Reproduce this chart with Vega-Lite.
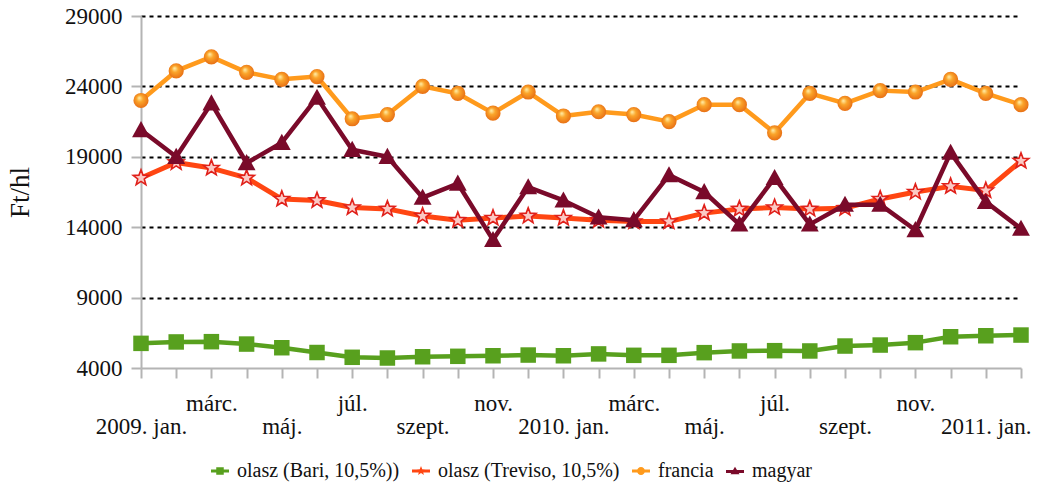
{
  "$schema": "https://vega.github.io/schema/vega-lite/v6.json",
  "autosize": {"type": "none"},
  "width": 880,
  "height": 352,
  "padding": {"left": 141, "top": 16, "right": 18, "bottom": 115},
  "background": "white",
  "config": {
    "view": {"stroke": null},
    "font": "Liberation Serif"
  },
  "data": {
    "values": [
      {"honap": "2009-01", "sorozat": "olasz (Bari, 10,5%))", "ar": 5750},
      {"honap": "2009-02", "sorozat": "olasz (Bari, 10,5%))", "ar": 5850},
      {"honap": "2009-03", "sorozat": "olasz (Bari, 10,5%))", "ar": 5870},
      {"honap": "2009-04", "sorozat": "olasz (Bari, 10,5%))", "ar": 5700},
      {"honap": "2009-05", "sorozat": "olasz (Bari, 10,5%))", "ar": 5440},
      {"honap": "2009-06", "sorozat": "olasz (Bari, 10,5%))", "ar": 5100},
      {"honap": "2009-07", "sorozat": "olasz (Bari, 10,5%))", "ar": 4760},
      {"honap": "2009-08", "sorozat": "olasz (Bari, 10,5%))", "ar": 4710},
      {"honap": "2009-09", "sorozat": "olasz (Bari, 10,5%))", "ar": 4800},
      {"honap": "2009-10", "sorozat": "olasz (Bari, 10,5%))", "ar": 4830},
      {"honap": "2009-11", "sorozat": "olasz (Bari, 10,5%))", "ar": 4870},
      {"honap": "2009-12", "sorozat": "olasz (Bari, 10,5%))", "ar": 4920},
      {"honap": "2010-01", "sorozat": "olasz (Bari, 10,5%))", "ar": 4870},
      {"honap": "2010-02", "sorozat": "olasz (Bari, 10,5%))", "ar": 5000},
      {"honap": "2010-03", "sorozat": "olasz (Bari, 10,5%))", "ar": 4900},
      {"honap": "2010-04", "sorozat": "olasz (Bari, 10,5%))", "ar": 4900},
      {"honap": "2010-05", "sorozat": "olasz (Bari, 10,5%))", "ar": 5090},
      {"honap": "2010-06", "sorozat": "olasz (Bari, 10,5%))", "ar": 5210},
      {"honap": "2010-07", "sorozat": "olasz (Bari, 10,5%))", "ar": 5230},
      {"honap": "2010-08", "sorozat": "olasz (Bari, 10,5%))", "ar": 5210},
      {"honap": "2010-09", "sorozat": "olasz (Bari, 10,5%))", "ar": 5560},
      {"honap": "2010-10", "sorozat": "olasz (Bari, 10,5%))", "ar": 5630},
      {"honap": "2010-11", "sorozat": "olasz (Bari, 10,5%))", "ar": 5800},
      {"honap": "2010-12", "sorozat": "olasz (Bari, 10,5%))", "ar": 6220},
      {"honap": "2011-01", "sorozat": "olasz (Bari, 10,5%))", "ar": 6290},
      {"honap": "2011-02", "sorozat": "olasz (Bari, 10,5%))", "ar": 6340},
      {"honap": "2009-01", "sorozat": "olasz (Treviso, 10,5%)", "ar": 17500},
      {"honap": "2009-02", "sorozat": "olasz (Treviso, 10,5%)", "ar": 18600},
      {"honap": "2009-03", "sorozat": "olasz (Treviso, 10,5%)", "ar": 18200},
      {"honap": "2009-04", "sorozat": "olasz (Treviso, 10,5%)", "ar": 17500},
      {"honap": "2009-05", "sorozat": "olasz (Treviso, 10,5%)", "ar": 16000},
      {"honap": "2009-06", "sorozat": "olasz (Treviso, 10,5%)", "ar": 15900},
      {"honap": "2009-07", "sorozat": "olasz (Treviso, 10,5%)", "ar": 15400},
      {"honap": "2009-08", "sorozat": "olasz (Treviso, 10,5%)", "ar": 15300},
      {"honap": "2009-09", "sorozat": "olasz (Treviso, 10,5%)", "ar": 14800},
      {"honap": "2009-10", "sorozat": "olasz (Treviso, 10,5%)", "ar": 14500},
      {"honap": "2009-11", "sorozat": "olasz (Treviso, 10,5%)", "ar": 14650},
      {"honap": "2009-12", "sorozat": "olasz (Treviso, 10,5%)", "ar": 14800},
      {"honap": "2010-01", "sorozat": "olasz (Treviso, 10,5%)", "ar": 14650},
      {"honap": "2010-02", "sorozat": "olasz (Treviso, 10,5%)", "ar": 14500},
      {"honap": "2010-03", "sorozat": "olasz (Treviso, 10,5%)", "ar": 14400},
      {"honap": "2010-04", "sorozat": "olasz (Treviso, 10,5%)", "ar": 14400},
      {"honap": "2010-05", "sorozat": "olasz (Treviso, 10,5%)", "ar": 15000},
      {"honap": "2010-06", "sorozat": "olasz (Treviso, 10,5%)", "ar": 15300},
      {"honap": "2010-07", "sorozat": "olasz (Treviso, 10,5%)", "ar": 15400},
      {"honap": "2010-08", "sorozat": "olasz (Treviso, 10,5%)", "ar": 15300},
      {"honap": "2010-09", "sorozat": "olasz (Treviso, 10,5%)", "ar": 15350},
      {"honap": "2010-10", "sorozat": "olasz (Treviso, 10,5%)", "ar": 16000},
      {"honap": "2010-11", "sorozat": "olasz (Treviso, 10,5%)", "ar": 16500},
      {"honap": "2010-12", "sorozat": "olasz (Treviso, 10,5%)", "ar": 16900},
      {"honap": "2011-01", "sorozat": "olasz (Treviso, 10,5%)", "ar": 16600},
      {"honap": "2011-02", "sorozat": "olasz (Treviso, 10,5%)", "ar": 18700},
      {"honap": "2009-01", "sorozat": "francia", "ar": 23000},
      {"honap": "2009-02", "sorozat": "francia", "ar": 25100},
      {"honap": "2009-03", "sorozat": "francia", "ar": 26100},
      {"honap": "2009-04", "sorozat": "francia", "ar": 25000},
      {"honap": "2009-05", "sorozat": "francia", "ar": 24500},
      {"honap": "2009-06", "sorozat": "francia", "ar": 24700},
      {"honap": "2009-07", "sorozat": "francia", "ar": 21700},
      {"honap": "2009-08", "sorozat": "francia", "ar": 22000},
      {"honap": "2009-09", "sorozat": "francia", "ar": 24000},
      {"honap": "2009-10", "sorozat": "francia", "ar": 23500},
      {"honap": "2009-11", "sorozat": "francia", "ar": 22100},
      {"honap": "2009-12", "sorozat": "francia", "ar": 23600},
      {"honap": "2010-01", "sorozat": "francia", "ar": 21900},
      {"honap": "2010-02", "sorozat": "francia", "ar": 22200},
      {"honap": "2010-03", "sorozat": "francia", "ar": 22000},
      {"honap": "2010-04", "sorozat": "francia", "ar": 21500},
      {"honap": "2010-05", "sorozat": "francia", "ar": 22700},
      {"honap": "2010-06", "sorozat": "francia", "ar": 22700},
      {"honap": "2010-07", "sorozat": "francia", "ar": 20700},
      {"honap": "2010-08", "sorozat": "francia", "ar": 23500},
      {"honap": "2010-09", "sorozat": "francia", "ar": 22800},
      {"honap": "2010-10", "sorozat": "francia", "ar": 23700},
      {"honap": "2010-11", "sorozat": "francia", "ar": 23600},
      {"honap": "2010-12", "sorozat": "francia", "ar": 24500},
      {"honap": "2011-01", "sorozat": "francia", "ar": 23500},
      {"honap": "2011-02", "sorozat": "francia", "ar": 22700},
      {"honap": "2009-01", "sorozat": "magyar", "ar": 20900},
      {"honap": "2009-02", "sorozat": "magyar", "ar": 19000},
      {"honap": "2009-03", "sorozat": "magyar", "ar": 22800},
      {"honap": "2009-04", "sorozat": "magyar", "ar": 18560},
      {"honap": "2009-05", "sorozat": "magyar", "ar": 20000},
      {"honap": "2009-06", "sorozat": "magyar", "ar": 23200},
      {"honap": "2009-07", "sorozat": "magyar", "ar": 19500},
      {"honap": "2009-08", "sorozat": "magyar", "ar": 19000},
      {"honap": "2009-09", "sorozat": "magyar", "ar": 16100},
      {"honap": "2009-10", "sorozat": "magyar", "ar": 17100},
      {"honap": "2009-11", "sorozat": "magyar", "ar": 13100},
      {"honap": "2009-12", "sorozat": "magyar", "ar": 16850},
      {"honap": "2010-01", "sorozat": "magyar", "ar": 15900},
      {"honap": "2010-02", "sorozat": "magyar", "ar": 14700},
      {"honap": "2010-03", "sorozat": "magyar", "ar": 14500},
      {"honap": "2010-04", "sorozat": "magyar", "ar": 17700},
      {"honap": "2010-05", "sorozat": "magyar", "ar": 16500},
      {"honap": "2010-06", "sorozat": "magyar", "ar": 14200},
      {"honap": "2010-07", "sorozat": "magyar", "ar": 17500},
      {"honap": "2010-08", "sorozat": "magyar", "ar": 14200},
      {"honap": "2010-09", "sorozat": "magyar", "ar": 15600},
      {"honap": "2010-10", "sorozat": "magyar", "ar": 15600},
      {"honap": "2010-11", "sorozat": "magyar", "ar": 13800},
      {"honap": "2010-12", "sorozat": "magyar", "ar": 19300},
      {"honap": "2011-01", "sorozat": "magyar", "ar": 15800},
      {"honap": "2011-02", "sorozat": "magyar", "ar": 13900}
    ]
  },
  "encoding": {
    "x": {
      "field": "honap", "type": "ordinal", "sort": null,
      "scale": {"type": "point", "padding": 0},
      "axis": {
        "title": null,
        "domainColor": "#B4B4B4", "domainWidth": 2,
        "tickColor": "#B4B4B4", "tickWidth": 2, "tickSize": 10,
        "labelFont": "Liberation Serif", "labelColor": "#111111",
        "labelAngle": 0, "labelFontSize": 23, "labelBaseline": "alphabetic",
        "labelLineHeight": 23, "labelPadding": 32,
        "labelOverlap": false, "labelBound": false, "labelFlush": false,
        "labelExpr": "datum.value == '2009-01' ? ['', '2009. jan.'] : datum.value == '2010-01' ? ['', '2010. jan.'] : datum.value == '2011-01' ? ['', '2011. jan.'] : slice(datum.value, 5) == '03' ? ['márc.', ''] : slice(datum.value, 5) == '05' ? ['', 'máj.'] : slice(datum.value, 5) == '07' ? ['júl.', ''] : slice(datum.value, 5) == '09' ? ['', 'szept.'] : slice(datum.value, 5) == '11' ? ['nov.', ''] : ''"
      }
    },
    "y": {
      "field": "ar", "type": "quantitative",
      "scale": {"domain": [4000, 29000], "nice": false, "zero": false},
      "axis": {
        "title": "Ft/hl", "titleFont": "Liberation Serif", "titleColor": "#111111",
        "titleFontSize": 27, "titleFontWeight": "normal", "titlePadding": 30,
        "values": [4000, 9000, 14000, 19000, 24000, 29000],
        "format": "d",
        "domainColor": "#B4B4B4", "domainWidth": 2,
        "tickColor": "#B4B4B4", "tickWidth": 2, "tickSize": 10,
        "labelFont": "Liberation Serif", "labelColor": "#111111",
        "labelFontSize": 23, "labelPadding": 9,
        "grid": true, "gridDash": [4, 4], "gridWidth": 2.2,
        "gridColor": {"condition": {"test": "datum.value == 4000", "value": "transparent"}, "value": "#000000"}
      }
    }
  },
  "layer": [
    {
      "transform": [{"filter": "datum.sorozat == 'olasz (Bari, 10,5%))'"}],
      "mark": {"type": "line", "strokeWidth": 4.5, "strokeJoin": "round", "color": "#58A01E"}
    },
    {
      "transform": [{"filter": "datum.sorozat == 'olasz (Bari, 10,5%))'"}],
      "mark": {"type": "point", "filled": true, "opacity": 1, "shape": "square", "size": 240, "fill": "#58A01E"}
    },
    {
      "transform": [{"filter": "datum.sorozat == 'olasz (Treviso, 10,5%)'"}],
      "mark": {"type": "line", "strokeWidth": 5, "strokeJoin": "round", "color": "#FF4612"}
    },
    {
      "transform": [{"filter": "datum.sorozat == 'olasz (Treviso, 10,5%)'"}],
      "mark": {"type": "point", "filled": false, "opacity": 1, "size": 270,
        "shape": "M0,-1L0.247,-0.34L0.951,-0.309L0.399,0.13L0.588,0.809L0,0.42L-0.588,0.809L-0.399,0.13L-0.951,-0.309L-0.247,-0.34Z",
        "fill": "#FBC9C4", "stroke": "#E0201A", "strokeWidth": 1.6}
    },
    {
      "transform": [{"filter": "datum.sorozat == 'francia'"}],
      "mark": {"type": "line", "strokeWidth": 4.5, "strokeJoin": "round", "color": "#FF9A1C"}
    },
    {
      "transform": [{"filter": "datum.sorozat == 'francia'"}],
      "mark": {"type": "point", "filled": true, "opacity": 1, "shape": "circle", "size": 230,
        "fill": {"gradient": "radial", "x1": 0.38, "y1": 0.32, "r1": 0, "x2": 0.5, "y2": 0.5, "r2": 0.62,
          "stops": [{"offset": 0, "color": "#FFF2B0"}, {"offset": 0.35, "color": "#FBA52A"}, {"offset": 1, "color": "#E2600E"}]}}
    },
    {
      "transform": [{"filter": "datum.sorozat == 'magyar'"}],
      "mark": {"type": "line", "strokeWidth": 4.5, "strokeJoin": "round", "color": "#7A0A2A"}
    },
    {
      "transform": [{"filter": "datum.sorozat == 'magyar'"}],
      "mark": {"type": "point", "filled": true, "opacity": 1, "size": 320,
        "shape": "M0,-1L1,0.8H-1Z", "fill": "#7A0A2A"}
    },
    {
      "transform": [{"filter": "datum.honap == '2009-01'"}],
      "mark": {"type": "point", "filled": true, "opacity": 0, "size": 100},
      "encoding": {
        "color": {
          "field": "sorozat", "type": "nominal",
          "scale": {
            "domain": ["olasz (Bari, 10,5%))", "olasz (Treviso, 10,5%)", "francia", "magyar"],
            "range": ["#58A01E", "#FF4612", "#FF9A1C", "#7A0A2A"]
          },
          "legend": {
            "title": null, "orient": "none", "direction": "horizontal",
            "legendX": 69, "legendY": 445, "columns": 4, "columnPadding": 9,
            "symbolSize": 100, "labelOffset": 7, "symbolOpacity": 1,
            "labelFont": "Liberation Serif", "labelFontSize": 20, "labelColor": "#111111", "labelLimit": 400
          }
        },
        "shape": {
          "field": "sorozat", "type": "nominal",
          "scale": {
            "domain": ["olasz (Bari, 10,5%))", "olasz (Treviso, 10,5%)", "francia", "magyar"],
            "range": [
              "M-1.8,-0.28H1.8V0.28H-1.8ZM-0.75,-0.75H0.75V0.75H-0.75Z",
              "M-1.8,-0.28H1.8V0.28H-1.8ZM0,-1L0.247,-0.34L0.951,-0.309L0.399,0.13L0.588,0.809L0,0.42L-0.588,0.809L-0.399,0.13L-0.951,-0.309L-0.247,-0.34Z",
              "M-1.8,-0.28H1.8V0.28H-1.8ZM0.8,0A0.8,0.8 0 1,1 -0.8,0A0.8,0.8 0 1,1 0.8,0Z",
              "M-1.8,-0.18H1.8V0.38H-1.8ZM0,-0.85L0.9,0.65H-0.9Z"
            ]
          },
          "legend": {
            "title": null, "orient": "none", "direction": "horizontal",
            "legendX": 69, "legendY": 445, "columns": 4, "columnPadding": 9,
            "symbolSize": 100, "labelOffset": 7, "symbolOpacity": 1,
            "labelFont": "Liberation Serif", "labelFontSize": 20, "labelColor": "#111111", "labelLimit": 400
          }
        }
      }
    }
  ]
}
